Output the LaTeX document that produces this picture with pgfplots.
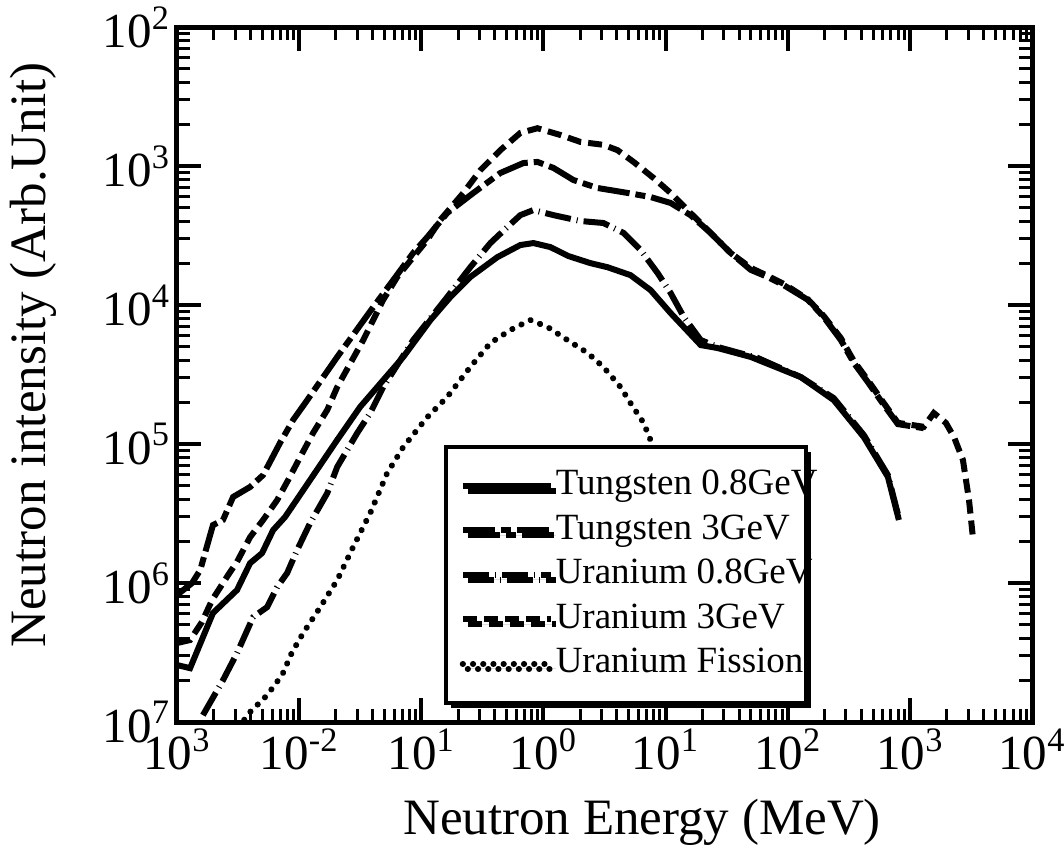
\documentclass[border=0pt]{standalone}
\usepackage{fontspec}
\setmainfont{Liberation Serif}
\usepackage{pgfplots}
\pgfplotsset{compat=1.18}
\usetikzlibrary{shadows}

\newcommand{\ent}[1]{\makebox[117pt][l]{#1}}

\begin{document}
\begin{tikzpicture}
\begin{axis}[
  name=ax,
  scale only axis, width=427.5pt, height=347.5pt,
  xmode=log, ymode=log,
  xmin=1e-3, xmax=1e4, ymin=1e-7, ymax=1e-2,
  xtick={1e-3,1e-2,1e-1,1,1e1,1e2,1e3,1e4},
  xticklabels={10\textsuperscript{3},10\textsuperscript{-2},10\textsuperscript{1},10\textsuperscript{0},10\textsuperscript{1},10\textsuperscript{2},10\textsuperscript{3},10\textsuperscript{4}},
  ytick={1e-7,1e-6,1e-5,1e-4,1e-3,1e-2},
  yticklabels={10\textsuperscript{7},10\textsuperscript{6},10\textsuperscript{5},10\textsuperscript{4},10\textsuperscript{3},10\textsuperscript{2}},
  tick label style={font=\fontsize{24.5}{28}\selectfont},
  label style={font=\fontsize{25.5}{30}\selectfont},
  xlabel={Neutron Energy (MeV)},
  ylabel={Neutron intensity (Arb.Unit)},
  xlabel style={at={(axis description cs:0.544,-0.145)}, anchor=center},
  ylabel style={at={(axis description cs:-0.168,0.528)}, anchor=center},
  axis line style={line width=2.5pt},
  major tick length=12pt, minor tick length=6.5pt,
  major tick style={line width=2pt, black},
  minor tick style={line width=1.5pt, black},
  legend image code/.code={\draw[#1] (0pt,0pt) -- (44pt,0pt);},
  legend cell align=left,
  legend style={at={(axis description cs:0.312,0.0245)}, anchor=south west,
    draw=black, line width=2pt, fill=white, inner xsep=7pt, inner ysep=10pt,
    row sep=3.25pt, font=\fontsize{18.5}{21}\selectfont,
    nodes={inner sep=1pt, text height=13pt, text depth=4pt},
    drop shadow={shadow xshift=2.5pt, shadow yshift=-2.5pt, fill=black, opacity=1}},
]
% Tungsten 0.8 GeV
\addplot[black, line width=3pt, solid] coordinates {
 (1e-3,2.57e-7) (1.28e-3,2.44e-7) (1.97e-3,6.08e-7) (3.10e-3,8.9e-7) (3.97e-3,1.39e-6)
 (4.97e-3,1.64e-6) (6.12e-3,2.40e-6) (7.68e-3,2.99e-6) (1.23e-2,5.51e-6) (2.05e-2,1.07e-5)
 (3.16e-2,1.85e-5) (4.88e-2,2.88e-5) (7.12e-2,4.23e-5) (0.119,7.80e-5) (0.173,1.14e-4)
 (0.252,1.59e-4) (0.420,2.21e-4) (0.647,2.70e-4) (0.828,2.79e-4) (1.14,2.61e-4)
 (1.60,2.25e-4) (2.43,2.00e-4) (3.35,1.87e-4) (5.16,1.64e-4) (7.54,1.28e-4)
 (11.0,8.75e-5) (19.4,5.15e-5) (26.7,4.9e-5) (49.8,4.23e-5) (128,3.03e-5)
 (238,2.07e-5) (420,1.12e-5) (661,5.80e-6) (813,2.84e-6)
};
\addlegendentry{\ent{Tungsten 0.8GeV}}
% Tungsten 3 GeV
\addplot[black, line width=3pt, dash pattern=on 16pt off 3pt on 5pt off 3pt] coordinates {
 (1e-3,8.20e-7) (1.33e-3,1.0e-6) (1.55e-3,1.24e-6) (1.97e-3,2.61e-6) (2.38e-3,2.84e-6)
 (2.88e-3,4.16e-6) (3.97e-3,4.91e-6) (5.07e-3,5.98e-6) (6.98e-3,1.02e-5) (8.93e-3,1.49e-5)
 (1.12e-2,1.97e-5) (2.05e-2,4.23e-5) (4.05e-2,9.68e-5) (5.89e-2,1.51e-4) (8.59e-2,2.37e-4)
 (0.112,3.08e-4) (0.163,4.59e-4) (0.267,6.40e-4) (0.444,8.91e-4) (0.685,1.05e-3)
 (0.893,1.07e-3) (1.21,9.68e-4) (1.76,7.93e-4) (2.77,6.95e-4) (4.89,6.40e-4)
 (7.54,5.98e-4) (11.0,5.42e-4) (16.0,4.43e-4) (23.4,3.30e-4) (34.1,2.37e-4)
 (49.8,1.79e-4) (68.6,1.59e-4) (92.7,1.39e-4) (146,1.09e-4) (197,8.20e-5)
 (272,5.60e-5) (348,3.83e-5) (453,2.79e-5) (612,1.91e-5) (798,1.39e-5) (1300,1.30e-5)
};
\addlegendentry{\ent{Tungsten 3GeV}}
% Uranium 0.8 GeV
\addplot[black, line width=3pt, dash pattern=on 13pt off 3pt on 0.5pt off 3pt] coordinates {
 (1.63e-3,1.12e-7) (2.38e-3,2.00e-7) (3.10e-3,3.13e-7) (4.20e-3,5.69e-7) (5.47e-3,6.71e-7)
 (6.61e-3,9.35e-7) (7.98e-3,1.18e-6) (9.64e-3,1.73e-6) (1.23e-2,2.70e-6) (1.70e-2,4.44e-6)
 (2.05e-2,6.84e-6) (2.99e-2,1.20e-5) (3.82e-2,1.67e-5) (4.88e-2,2.57e-5) (8.59e-2,5.60e-5)
 (0.163,1.14e-4) (0.252,1.87e-4) (0.368,2.79e-4) (0.507,3.64e-4) (0.647,4.43e-4)
 (0.828,4.82e-4) (1.21,4.43e-4) (2.01,4.02e-4) (3.10,3.89e-4) (4.53,3.30e-4)
 (6.24,2.49e-4) (8.60,1.70e-4) (11.0,1.22e-4) (14.1,8.20e-5) (19.4,5.60e-5)
 (26.7,4.99e-5) (56.8,4.16e-5) (128,3.03e-5) (238,2.14e-5) (420,1.16e-5)
 (661,5.98e-6) (813,2.94e-6)
};
\addlegendentry{\ent{Uranium 0.8GeV}}
% Uranium 3 GeV
\addplot[black, line width=3pt, dash pattern=on 7pt off 3.5pt] coordinates {
 (1e-3,3.70e-7) (1.28e-3,3.89e-7) (1.60e-3,5.24e-7) (1.94e-3,7.55e-7) (2.62e-3,1.14e-6)
 (3.10e-3,1.42e-6) (3.97e-3,2.14e-6) (5.07e-3,2.84e-6) (6.61e-3,3.95e-6) (8.13e-3,5.51e-6)
 (1.02e-2,8.05e-6) (1.30e-2,1.20e-5) (1.70e-2,1.76e-5) (2.05e-2,2.57e-5) (3.35e-2,5.60e-5)
 (4.88e-2,1.09e-4) (6.35e-2,1.59e-4) (8.59e-2,2.21e-4) (0.112,2.94e-4) (0.143,4.09e-4)
 (0.221,6.40e-4) (0.305,9.35e-4) (0.444,1.30e-3) (0.647,1.73e-3) (0.893,1.87e-3)
 (1.38,1.67e-3) (2.01,1.49e-3) (3.10,1.42e-3) (4.04,1.30e-3) (5.47,1.07e-3)
 (7.98,8.20e-4) (11.0,6.40e-4) (16.0,4.59e-4) (23.4,3.30e-4) (34.1,2.37e-4)
 (49.8,1.85e-4) (68.6,1.62e-4) (92.7,1.42e-4) (146,1.10e-4) (197,8.34e-5)
 (272,5.79e-5) (348,3.95e-5) (453,2.88e-5) (612,1.97e-5) (798,1.42e-5)
 (1300,1.33e-5) (1570,1.67e-5) (1970,1.42e-5) (2300,1.12e-5) (2720,7.67e-6)
 (3050,3.95e-6) (3280,2.14e-6)
};
\addlegendentry{\ent{Uranium 3GeV}}
% Uranium fission
\addplot[black, line width=3pt, line cap=round, dash pattern=on 0.1pt off 5pt] coordinates {
 (3.16e-3,9.06e-8) (3.97e-3,1.18e-7) (5.47e-3,1.56e-7) (7.26e-3,2.18e-7) (8.77e-3,3.19e-7)
 (1.08e-2,4.37e-7) (1.49e-2,6.71e-7) (2.05e-2,1.05e-6) (2.77e-2,1.82e-6) (3.82e-2,3.19e-6)
 (5.26e-2,6.18e-6) (7.12e-2,9.51e-6) (0.112,1.56e-5) (0.163,2.18e-5) (0.252,3.58e-5)
 (0.368,5.33e-5) (0.537,6.61e-5) (0.782,7.80e-5) (1.08,6.95e-5) (1.57,5.60e-5)
 (2.30,4.52e-5) (3.10,3.58e-5) (4.28,2.57e-5) (5.16,1.97e-5) (6.61,1.42e-5)
 (7.82,9.84e-6) (10,5.5e-6) (13.3,2.4e-6)
};
\addlegendentry{\ent{Uranium Fission}}
\end{axis}
\pgfresetboundingbox
\path (ax.south west) ++(-88.5pt,-67pt) rectangle ++(532pt,428pt);
\end{tikzpicture}
\end{document}
